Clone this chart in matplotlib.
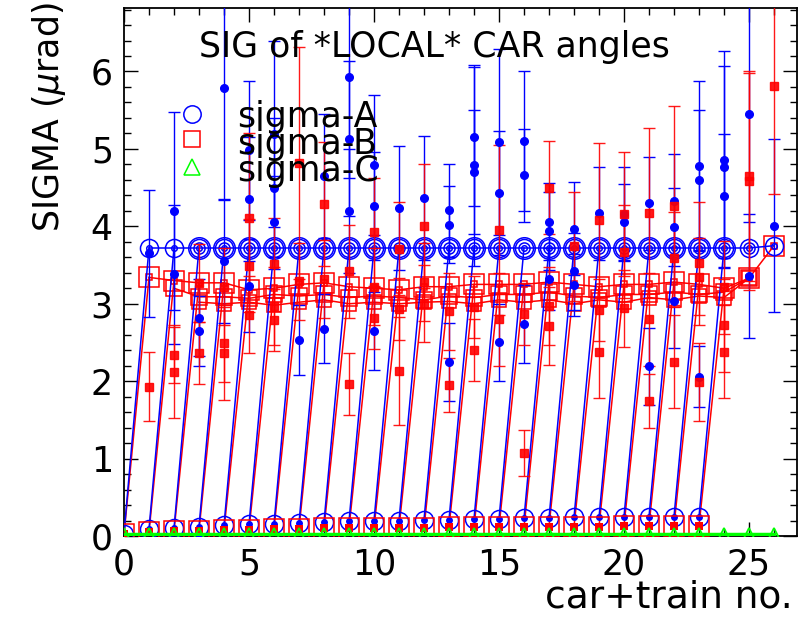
import numpy as np
import matplotlib
matplotlib.use("Agg")
import matplotlib.pyplot as plt
from matplotlib.ticker import MultipleLocator

# ---------------- data ----------------
# car index positions
x_top = np.arange(1, 27)          # 1..26
x_bot = np.arange(0, 24)          # 0..23
x_c = np.arange(0, 27)            # 0..26

# sigma-A (blue circles): upper level and lower level
A_top = [3.72] * 25 + [3.75]
A_bot = [0.03, 0.09, 0.10, 0.12, 0.14, 0.15, 0.16, 0.17, 0.18, 0.19, 0.20, 0.20,
         0.21, 0.21, 0.22, 0.22, 0.23, 0.23, 0.24, 0.24, 0.25, 0.25, 0.25, 0.25]

# sigma-B (red squares): three upper traces and lower level
B_top1 = [3.34, 3.30, 3.27, 3.27, 3.18, 3.20, 3.25, 3.27, 3.22, 3.20, 3.18, 3.22, 3.22,
          3.25, 3.25, 3.25, 3.28, 3.25, 3.22, 3.25, 3.25, 3.28, 3.25, 3.20, 3.33, 3.75]
B_top2 = [3.20, 3.09, 3.09, 3.07, 3.12, 3.10, 3.12, 3.08, 3.10, 3.08, 3.05, 3.10,
          3.08, 3.12, 3.12, 3.15, 3.10, 3.08, 3.12, 3.12, 3.15, 3.12, 3.15, 3.33]
B_top3 = [3.02, 3.00, 3.02, 2.98, 3.02, 3.05, 3.00, 3.02, 3.00, 3.02, 3.03, 3.00,
          3.05, 3.02, 3.05, 3.00, 3.05, 3.02, 3.08, 3.05, 3.10, 3.08, 3.33]
B_bot = [0.02, 0.05, 0.06, 0.07, 0.08, 0.08, 0.09, 0.09, 0.10, 0.10, 0.10, 0.10,
         0.10, 0.11, 0.11, 0.11, 0.11, 0.12, 0.12, 0.12, 0.13, 0.13, 0.13, 0.13]

# sigma-C (green triangles)
C_vals = [0.03] * 27

# individual measurements with error bars
blue_x = [1, 2, 2, 3, 3, 4, 4, 5, 5, 5, 6, 6, 6, 7, 8, 8, 9, 9, 9, 10, 10, 10, 11, 12,
          13, 13, 13, 14, 14, 14, 15, 15, 15, 16, 16, 16, 17, 17, 17, 18, 18, 18, 19,
          20, 20, 21, 21, 22, 22, 22, 23, 23, 23, 24, 24, 24, 25, 25, 26]
blue_y = [3.65, 4.20, 3.38, 2.82, 2.65, 5.79, 3.55, 4.98, 4.35, 3.23, 5.19, 4.50, 4.05,
          2.53, 4.65, 2.68, 5.93, 5.13, 4.20, 4.79, 4.26, 2.65, 4.24, 4.37, 4.21, 4.02,
          2.25, 5.16, 4.79, 4.70, 5.09, 4.43, 2.50, 5.10, 4.66, 2.74, 4.06, 3.94, 3.32,
          3.97, 3.42, 3.24, 4.17, 4.16, 4.05, 4.30, 2.19, 4.33, 3.99, 3.03, 4.78, 4.60,
          2.06, 4.86, 4.77, 4.39, 5.45, 3.36, 4.01]
blue_err = [0.82, 1.28, 0.90, 0.50, 0.45, 1.45, 0.80, 0.90, 0.80, 0.60, 1.20, 0.90, 0.60,
            0.45, 0.80, 0.45, 1.30, 1.00, 0.80, 0.90, 0.70, 0.50, 0.80, 0.80, 0.60, 0.50,
            0.50, 0.90, 1.30, 0.80, 1.20, 0.80, 0.50, 0.90, 0.60, 0.50, 0.50, 0.50, 0.40,
            0.60, 0.50, 0.40, 0.60, 0.60, 0.50, 0.60, 0.50, 0.60, 0.50, 0.60, 1.10, 0.90,
            0.40, 1.40, 1.30, 0.80, 1.40, 0.80, 1.12]

red_x = [1, 2, 2, 3, 3, 4, 4, 4, 5, 5, 5, 6, 6, 6, 7, 7, 8, 8, 9, 9, 10, 10, 10, 11, 11,
         11, 12, 12, 12, 13, 13, 14, 14, 15, 15, 16, 16, 17, 17, 17, 18, 19, 19, 19, 20,
         20, 20, 21, 21, 21, 22, 22, 22, 23, 23, 23, 24, 24, 24, 25, 25, 26]
red_y = [1.93, 2.34, 2.12, 3.27, 2.36, 3.22, 2.49, 2.36, 4.11, 3.49, 2.86, 3.51, 2.97,
         2.79, 4.82, 3.29, 4.29, 3.32, 3.42, 1.96, 3.93, 3.22, 2.81, 3.71, 2.93, 2.13,
         4.00, 3.28, 3.00, 2.90, 1.95, 2.96, 2.40, 3.95, 2.80, 2.87, 1.07, 4.50, 2.97,
         2.71, 3.74, 4.08, 2.92, 2.38, 4.16, 3.67, 2.94, 4.17, 2.80, 1.74, 4.26, 3.59,
         2.25, 3.52, 3.35, 1.99, 3.21, 2.72, 2.38, 4.65, 4.58, 5.81]
red_err = [0.45, 0.36, 0.60, 0.50, 0.40, 0.50, 0.50, 0.60, 1.10, 0.60, 0.50, 0.60, 0.50,
           0.40, 1.50, 0.50, 0.80, 0.50, 0.60, 0.40, 0.70, 0.50, 0.40, 0.60, 0.40, 0.70,
           0.80, 0.50, 0.50, 0.50, 0.35, 0.40, 0.40, 1.10, 0.60, 0.40, 0.30, 0.60, 0.50,
           0.50, 0.70, 1.00, 0.40, 0.60, 0.80, 0.60, 0.50, 1.10, 0.60, 0.35, 1.30, 0.60,
           0.60, 0.80, 0.50, 0.50, 0.60, 0.60, 0.60, 1.35, 1.40, 1.39]

BLUE = (0, 0, 1)
RED = (1, 0, 0)
GREEN = (0, 1, 0)

# ---------------- figure ----------------
fig = plt.figure(figsize=(7.98, 6.18), dpi=100)
ax = fig.add_axes([124 / 798, 1 - 536 / 618, (797 - 124) / 798, (536 - 8) / 618])
ax.set_xlim(0, 26.92)
ax.set_ylim(0, 6.82)

lw = 1.1

# sawtooth diagonals: lower level of car k to upper level of car k+1
for k in range(len(x_bot)):
    ax.plot([x_bot[k], x_top[k]], [A_bot[k], A_top[k]], color=BLUE, lw=lw, zorder=3)
    ax.plot([x_bot[k], x_top[k]], [B_bot[k], B_top1[k]], color=RED, lw=lw, zorder=2)

# red upper traces
ax.plot(x_top, B_top1, color=RED, lw=lw, marker='s', ms=14, mfc='none', mew=1.1, zorder=2)
ax.plot(x_top, B_top1, color=RED, lw=0, marker='s', ms=4.5, mfc='none', mew=1.1, zorder=2)
ax.plot(x_top[1:25], B_top2, color=RED, lw=lw, marker='s', ms=12, mfc='none', mew=1.1, zorder=2)
ax.plot(x_top[2:25], B_top3, color=RED, lw=lw, marker='s', ms=10, mfc='none', mew=1.1, zorder=2)

# blue upper traces (concentric rings)
ax.plot(x_top, A_top, color=BLUE, lw=lw, marker='o', ms=13, mfc='none', mew=1.1, zorder=4)
ax.plot(x_top, A_top, color=BLUE, lw=0, marker='o', ms=4, mfc='none', mew=1.1, zorder=4)
ax.plot(x_top[2:25], A_top[2:25], color=BLUE, lw=0, marker='o', ms=8, mfc='none', mew=1.1, zorder=4)
ax.plot(x_top[2:24], A_top[2:24], color=BLUE, lw=0, marker='o', ms=15.5, mfc='none', mew=1.1, zorder=4)

# individual measurements with error bars
ax.errorbar(blue_x, blue_y, yerr=blue_err, fmt='o', color=BLUE, ms=5.5, capsize=4.5,
            elinewidth=1.0, capthick=1.0, zorder=5)
ax.errorbar(red_x, red_y, yerr=red_err, fmt='s', color=RED, ms=5.5, capsize=4.5,
            elinewidth=1.0, capthick=1.0, zorder=5, alpha=0.9)

# lower level markers
ax.plot(x_bot, A_bot, color=BLUE, lw=0, marker='o', ms=13, mfc='none', mew=1.1, zorder=6)
ax.plot(x_bot, A_bot, color=BLUE, lw=0, marker='o', ms=5, mfc=BLUE, mew=0, zorder=6)
ax.plot(x_bot, B_bot, color=RED, lw=0, marker='s', ms=14, mfc='none', mew=1.1, zorder=7)
ax.plot(x_bot, B_bot, color=RED, lw=0, marker='s', ms=6, mfc=RED, mew=0, zorder=7)

# sigma-C
ax.plot(x_c, C_vals, color=GREEN, lw=2.5, marker='^', ms=9, mfc='none', mew=1.3,
        zorder=8, clip_on=True)

# ---------------- axes styling ----------------
ax.xaxis.set_major_locator(MultipleLocator(5))
ax.xaxis.set_minor_locator(MultipleLocator(1))
ax.yaxis.set_major_locator(MultipleLocator(1))
ax.yaxis.set_minor_locator(MultipleLocator(0.2))
ax.tick_params(which='both', direction='in', top=True, right=True, width=1.0, colors='black')
ax.tick_params(which='major', length=10, labelsize=25, pad=8)
ax.tick_params(which='minor', length=5)
for s in ax.spines.values():
    s.set_linewidth(1.3)

ax.set_xlabel('car+train no.', fontsize=27, loc='right')
ax.xaxis.set_label_coords(0.993, -0.083)
ax.xaxis.label.set_va('top')
ax.set_ylabel(r'SIGMA ($\mu$rad)', fontsize=25)
ax.yaxis.set_label_coords(-0.112, 0.794)
ax.yaxis.label.set_va('center')

ax.text(0.462, 0.926, 'SIG of *LOCAL* CAR angles', transform=ax.transAxes,
        fontsize=25, ha='center', va='center', zorder=10)

# legend (manual, as in original)
leg_y = [0.799, 0.752, 0.699]
ax.plot([0.101], [leg_y[0]], transform=ax.transAxes, marker='o', ms=12.5, mfc='none',
        mec=BLUE, mew=1.1, lw=0, zorder=10)
ax.plot([0.101], [leg_y[1]], transform=ax.transAxes, marker='s', ms=11.5, mfc='none',
        mec=RED, mew=1.1, lw=0, zorder=10)
ax.plot([0.101], [leg_y[2]], transform=ax.transAxes, marker='^', ms=12, mfc='none',
        mec=GREEN, mew=1.1, lw=0, zorder=10)
for lbl, yy in zip(['sigma-A', 'sigma-B', 'sigma-C'], [0.794, 0.743, 0.692]):
    ax.text(0.168, yy, lbl, transform=ax.transAxes, fontsize=25, ha='left', va='center',
            zorder=10)

fig.savefig('out.png', dpi=100)
